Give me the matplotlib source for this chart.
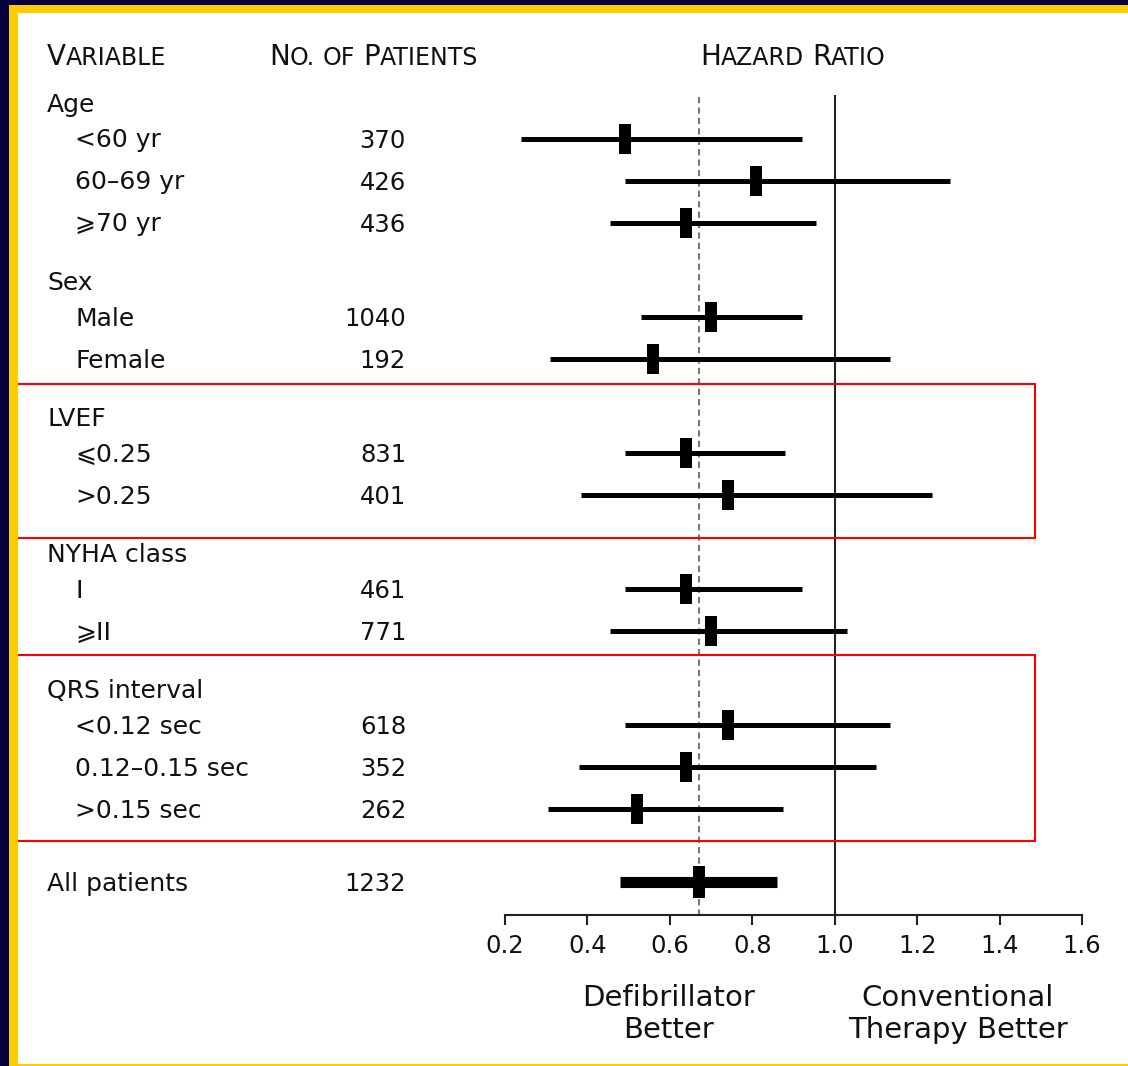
import matplotlib
matplotlib.use("Agg")
import matplotlib.pyplot as plt
from matplotlib.patches import Rectangle
from matplotlib.transforms import blended_transform_factory

# ---------------- data ----------------
groups = ["Age", "Sex", "LVEF", "NYHA class", "QRS interval"]
subgroups = [
    ["<60 yr", "60–69 yr", "⩾70 yr"],
    ["Male", "Female"],
    ["⩽0.25", ">0.25"],
    ["I", "⩾II"],
    ["<0.12 sec", "0.12–0.15 sec", ">0.15 sec"],
]
patients = [[370, 426, 436], [1040, 192], [831, 401], [461, 771], [618, 352, 262]]
hazard = [[0.49, 0.81, 0.64], [0.70, 0.56], [0.64, 0.74], [0.64, 0.70], [0.74, 0.64, 0.52]]
ci_low = [[0.24, 0.49, 0.455], [0.53, 0.31], [0.49, 0.385], [0.49, 0.455], [0.49, 0.38, 0.305]]
ci_high = [[0.92, 1.28, 0.955], [0.92, 1.135], [0.88, 1.235], [0.92, 1.03], [1.135, 1.10, 0.875]]

overall_label = "All patients"
overall_n = 1232
overall_hr = 0.67
overall_low = 0.48
overall_high = 0.86

xticks = [0.2, 0.4, 0.6, 0.8, 1.0, 1.2, 1.4, 1.6]
xtick_labels = ["0.2", "0.4", "0.6", "0.8", "1.0", "1.2", "1.4", "1.6"]

# ---------------- layout ----------------
W, H = 1128, 1066
TXT = "#111111"
plt.rcParams["font.family"] = ["DejaVu Sans"]

fig = plt.figure(figsize=(W / 100, H / 100), dpi=100)
fig.patch.set_facecolor("white")

AX_LEFT, AX_RIGHT, AX_BOTTOM = 505, 1082, 915
ax = fig.add_axes([AX_LEFT / W, (H - AX_BOTTOM) / H, (AX_RIGHT - AX_LEFT) / W, AX_BOTTOM / H])
ax.set_xlim(0.2, 1.6)
ax.set_ylim(AX_BOTTOM, 0)
ax.patch.set_alpha(0)
for s in ["top", "left", "right"]:
    ax.spines[s].set_visible(False)
ax.spines["bottom"].set_linewidth(1.5)
ax.spines["bottom"].set_color("#222222")
ax.set_yticks([])
ax.set_xticks(xticks)
ax.set_xticklabels(xtick_labels)
ax.tick_params(axis="x", length=7.5, width=1.5, colors="#222222", labelcolor=TXT,
               labelsize=17.5, pad=6.5, direction="out")

# row positions
HEADER0 = 103
HEADER_TO_ITEM = 35.5
ITEM_STEP = 42
GROUP_GAP = 58.5
ALL_GAP = 73.5

header_y = []
item_y = []
y = HEADER0
for g, subs in zip(groups, subgroups):
    header_y.append(y)
    ys = [y + HEADER_TO_ITEM + ITEM_STEP * i for i in range(len(subs))]
    item_y.append(ys)
    y = ys[-1] + GROUP_GAP
overall_y = item_y[-1][-1] + ALL_GAP

trans = blended_transform_factory(fig.transFigure, ax.transData)
LABEL_X, ITEM_X, NUM_X = 47, 75, 406
BASE_OFF = 9

for g, hy in zip(groups, header_y):
    ax.text(LABEL_X / W, hy + BASE_OFF, g, transform=trans, fontsize=18,
            va="baseline", ha="left", color=TXT, clip_on=False)

marker_verts = [(-0.185, -0.5), (0.185, -0.5), (0.185, 0.5), (-0.185, 0.5), (-0.185, -0.5)]

for subs, ns, hrs, los, his, ys in zip(subgroups, patients, hazard, ci_low, ci_high, item_y):
    for lab, n, yy in zip(subs, ns, ys):
        ax.text(ITEM_X / W, yy + BASE_OFF, lab, transform=trans, fontsize=18,
                va="baseline", ha="left", color=TXT, clip_on=False)
        ax.text(NUM_X / W, yy + BASE_OFF, str(n), transform=trans, fontsize=17.5,
                va="baseline", ha="right", color=TXT, clip_on=False)
    ax.hlines(ys, los, his, colors="black", linewidth=3.6, capstyle="butt", zorder=3)
    ax.plot(hrs, ys, ls="none", marker=marker_verts, markersize=22, color="black",
            markeredgewidth=0, zorder=4)

# overall
ax.text(LABEL_X / W, overall_y + BASE_OFF, overall_label, transform=trans, fontsize=18,
        va="baseline", ha="left", color=TXT, clip_on=False)
ax.text(NUM_X / W, overall_y + BASE_OFF, str(overall_n), transform=trans, fontsize=17.5,
        va="baseline", ha="right", color=TXT, clip_on=False)
ax.hlines([overall_y], [overall_low], [overall_high], colors="black", linewidth=8,
          capstyle="butt", zorder=3)
ax.plot([overall_hr], [overall_y], ls="none", marker=marker_verts, markersize=22.5,
        color="black", markeredgewidth=0, zorder=4)

# reference lines
ax.vlines(1.0, 95, AX_BOTTOM, colors="#222222", linewidth=1.5, zorder=2)
ax.vlines(overall_hr, 97, AX_BOTTOM, colors="#777777", linewidth=1.5,
          linestyles=(0, (3, 2)), zorder=2)

# direction labels
ax.text(0.2 + (669 - AX_LEFT) / (AX_RIGHT - AX_LEFT) * 1.4, 1014, "Defibrillator\nBetter",
        fontsize=21, ha="center", va="center", multialignment="center",
        linespacing=1.15, color=TXT, clip_on=False)
ax.text(0.2 + (958 - AX_LEFT) / (AX_RIGHT - AX_LEFT) * 1.4, 1014, "Conventional\nTherapy Better",
        fontsize=21, ha="center", va="center", multialignment="center",
        linespacing=1.15, color=TXT, clip_on=False)

# small-caps column headers
renderer = fig.canvas.get_renderer()
BIG, SMALL = 20, 17


def smallcaps(x, ybase, pieces):
    for piece in pieces:
        if isinstance(piece, (int, float)):
            x += piece
            continue
        txt, size = piece
        t = fig.text(x / W, 1 - ybase / H, txt, fontsize=size, va="baseline",
                     ha="left", color=TXT)
        bb = t.get_window_extent(renderer)
        x = bb.x1


smallcaps(47, 65, [("V", BIG), ("ARIABLE", SMALL)])
smallcaps(269, 65, [("N", BIG), ("O.", SMALL), 8, ("OF", SMALL), 8, ("P", BIG), ("ATIENTS", SMALL)])
smallcaps(700, 65, [("H", BIG), ("AZARD", SMALL), 8, ("R", BIG), ("ATIO", SMALL)])

# highlight boxes
for (y0, y1) in [(384, 538), (655, 841)]:
    fig.add_artist(Rectangle((17 / W, 1 - y1 / H), (1035 - 17) / W, (y1 - y0) / H,
                             transform=fig.transFigure, fill=False,
                             edgecolor="#ff0000", linewidth=1.5, zorder=5))

# frame
NAVY, YELLOW = "#03003a", "#ffcc00"
fig.add_artist(Rectangle((0, 0), 9 / W, 1, transform=fig.transFigure, color=NAVY, lw=0, zorder=6))
fig.add_artist(Rectangle((9 / W, 0), 8.5 / W, 1 - 5 / H, transform=fig.transFigure,
                         color=YELLOW, lw=0, zorder=6))
fig.add_artist(Rectangle((0, 1 - 5 / H), 1, 5 / H, transform=fig.transFigure, color=NAVY, lw=0, zorder=7))
fig.add_artist(Rectangle((9 / W, 1 - 13 / H), 1, 8 / H, transform=fig.transFigure,
                         color=YELLOW, lw=0, zorder=7))
fig.add_artist(Rectangle((9 / W, 0), 1, 2.5 / H, transform=fig.transFigure,
                         color=YELLOW, lw=0, zorder=7))

fig.savefig("out.png", dpi=100, facecolor="white")
